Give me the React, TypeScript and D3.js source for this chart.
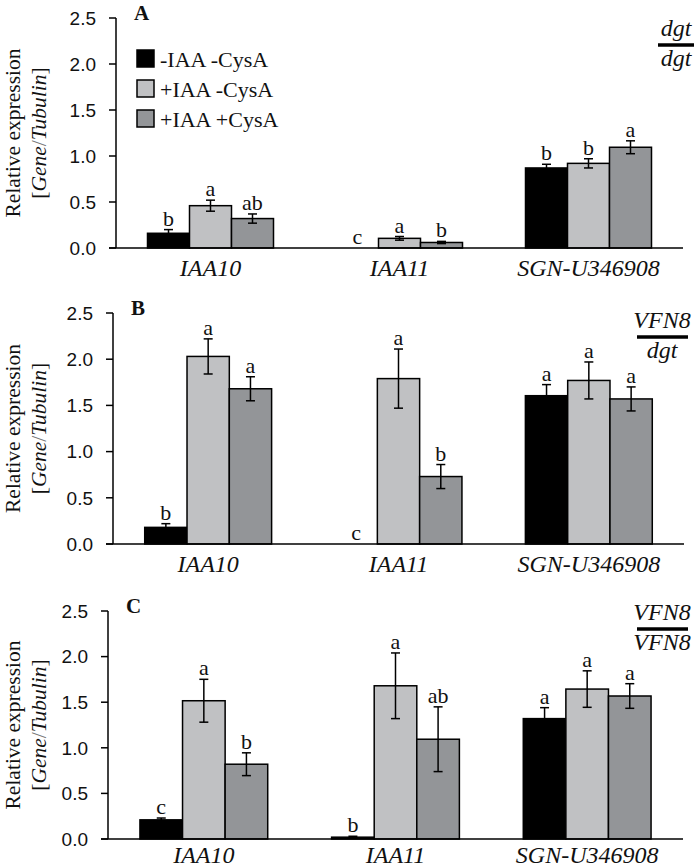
import React from "react";
import * as d3 from "d3";

const categories = ["IAA10", "IAA11", "SGN-U346908"];
const treatments = ["-IAA -CysA", "+IAA -CysA", "+IAA +CysA"];
const colors = ["#000000", "#c0c1c3", "#939598"];
const yTicks = [0, 0.5, 1.0, 1.5, 2.0, 2.5];

// Panel A (dgt/dgt)
const meansA = [[0.16, 0.46, 0.32], [0, 0.105, 0.06], [0.87, 0.92, 1.095]];
const errsA = [[0.04, 0.06, 0.05], [0, 0.02, 0.012], [0.04, 0.05, 0.07]];
const lettersA = [["b", "a", "ab"], ["c", "a", "b"], ["b", "b", "a"]];

// Panel B (VFN8/dgt)
const meansB = [[0.18, 2.03, 1.68], [0, 1.79, 0.73], [1.605, 1.77, 1.57]];
const errsB = [[0.04, 0.19, 0.13], [0, 0.32, 0.13], [0.12, 0.2, 0.13]];
const lettersB = [["b", "a", "a"], ["c", "a", "b"], ["a", "a", "a"]];

// Panel C (VFN8/VFN8)
const meansC = [[0.21, 1.516, 0.82], [0.02, 1.68, 1.094], [1.32, 1.644, 1.568]];
const errsC = [[0.02, 0.235, 0.125], [0.01, 0.36, 0.355], [0.12, 0.2, 0.135]];
const lettersC = [["c", "a", "b"], ["b", "a", "ab"], ["a", "a", "a"]];

const serif = "'Liberation Serif', 'Times New Roman', serif";
const sans = "'Liberation Sans', Arial, sans-serif";

type PanelProps = {
  label: string;
  yTop: number;
  y0: number;
  x0: number;
  x1: number;
  means: number[][];
  errs: number[][];
  letters: string[][];
  genoTop: string;
  genoBottom: string;
  genoCx: number;
  genoLineX: [number, number];
  genoLineY: number;
  catDy: number;
  legend?: boolean;
};

function Panel(p: PanelProps) {
  const y = d3.scaleLinear().domain([0, 2.5]).range([p.y0, p.yTop]);
  const xCat = d3
    .scaleBand<string>()
    .domain(categories)
    .range([p.x0, p.x1])
    .paddingInner(1 / 3)
    .paddingOuter(1 / 6);
  const xSub = d3
    .scaleBand<string>()
    .domain(treatments)
    .range([0, xCat.bandwidth()]);
  const fmt = d3.format(".1f");
  const midY = (p.y0 + p.yTop) / 2;
  const cap = 4.5;

  return (
    <g>
      {/* y axis */}
      <line x1={p.x0} x2={p.x0} y1={p.yTop} y2={p.y0} stroke="#000" strokeWidth={1.5} />
      {yTicks.map((t) => (
        <g key={t}>
          <line x1={p.x0 - 7} x2={p.x0} y1={y(t)} y2={y(t)} stroke="#000" strokeWidth={1.5} />
          <text
            x={p.x0 - 20}
            y={y(t)}
            dy="0.36em"
            textAnchor="end"
            fontFamily={sans}
            fontSize={19}
            fill="#111"
          >
            {fmt(t)}
          </text>
        </g>
      ))}
      {/* bars */}
      {categories.map((c, ci) => (
        <g key={c}>
          {treatments.map((t, ti) => {
            const v = p.means[ci][ti];
            const e = p.errs[ci][ti];
            const bx = (xCat(c) as number) + (xSub(t) as number);
            const bw = xSub.bandwidth();
            const cx = bx + bw / 2;
            const top = e > 0 ? y(v + e) : y(v);
            return (
              <g key={t}>
                {v > 0 && (
                  <rect
                    x={bx}
                    y={y(v)}
                    width={bw}
                    height={p.y0 - y(v)}
                    fill={colors[ti]}
                    stroke="#000"
                    strokeWidth={1.5}
                  />
                )}
                {e > 0 && (
                  <g stroke="#000" strokeWidth={1.5}>
                    <line x1={cx} x2={cx} y1={y(v + e)} y2={y(Math.max(0, v - e))} />
                    <line x1={cx - cap} x2={cx + cap} y1={y(v + e)} y2={y(v + e)} />
                    <line
                      x1={cx - cap}
                      x2={cx + cap}
                      y1={y(Math.max(0, v - e))}
                      y2={y(Math.max(0, v - e))}
                    />
                  </g>
                )}
                <text
                  x={cx}
                  y={top - 4}
                  textAnchor="middle"
                  fontFamily={serif}
                  fontSize={22}
                  fill="#111"
                >
                  {p.letters[ci][ti]}
                </text>
              </g>
            );
          })}
          <text
            x={(xCat(c) as number) + xCat.bandwidth() / 2}
            y={p.y0 + p.catDy}
            textAnchor="middle"
            fontFamily={serif}
            fontStyle="italic"
            fontSize={24}
            fill="#111"
          >
            {c}
          </text>
        </g>
      ))}
      {/* x axis */}
      <line x1={p.x0 - 7} x2={p.x1} y1={p.y0} y2={p.y0} stroke="#000" strokeWidth={1.5} />
      {/* panel letter */}
      <text
        x={p.x0 + 18}
        y={p.yTop + 2}
        fontFamily={serif}
        fontWeight="bold"
        fontSize={21}
        fill="#111"
      >
        {p.label}
      </text>
      {/* y label */}
      <g transform={`translate(20, ${midY}) rotate(-90)`}>
        <text textAnchor="middle" fontFamily={serif} fontSize={21.5} fill="#111">
          Relative expression
        </text>
      </g>
      <g transform={`translate(46, ${midY}) rotate(-90)`}>
        <text textAnchor="middle" fontFamily={serif} fontSize={21.5} fill="#111">
          [<tspan fontStyle="italic">Gene</tspan>
          <tspan fill="#777">/</tspan>
          <tspan fontStyle="italic">Tubulin</tspan>]
        </text>
      </g>
      {/* genotype */}
      <text
        x={p.genoCx}
        y={p.genoLineY - 9}
        textAnchor="middle"
        fontFamily={serif}
        fontStyle="italic"
        fontSize={24}
        fill="#111"
      >
        {p.genoTop}
      </text>
      <line
        x1={p.genoLineX[0]}
        x2={p.genoLineX[1]}
        y1={p.genoLineY}
        y2={p.genoLineY}
        stroke="#000"
        strokeWidth={3.5}
      />
      <text
        x={p.genoCx}
        y={p.genoLineY + 21}
        textAnchor="middle"
        fontFamily={serif}
        fontStyle="italic"
        fontSize={24}
        fill="#111"
      >
        {p.genoBottom}
      </text>
      {/* legend */}
      {p.legend &&
        treatments.map((t, i) => (
          <g key={t}>
            <rect
              x={137}
              y={50 + i * 30}
              width={17}
              height={17}
              fill={colors[i]}
              stroke="#000"
              strokeWidth={1.5}
            />
            <text x={160} y={50 + i * 30 + 17} fontFamily={serif} fontSize={22} fill="#111">
              {t}
            </text>
          </g>
        ))}
    </g>
  );
}

export default function App() {
  return (
    <svg
      width={700}
      height={867}
      style={{ position: "absolute", left: 0, top: 0, background: "#fff" }}
    >
      <rect width={700} height={867} fill="#fff" />
      <Panel
        label="A"
        yTop={18}
        y0={248}
        x0={116}
        x1={683}
        means={meansA}
        errs={errsA}
        letters={lettersA}
        genoTop="dgt"
        genoBottom="dgt"
        genoCx={676}
        genoLineX={[658, 694]}
        genoLineY={45}
        catDy={28}
        legend
      />
      <Panel
        label="B"
        yTop={313}
        y0={544}
        x0={113}
        x1={684}
        means={meansB}
        errs={errsB}
        letters={lettersB}
        genoTop="VFN8"
        genoBottom="dgt"
        genoCx={662}
        genoLineX={[637, 688]}
        genoLineY={337}
        catDy={28}
      />
      <Panel
        label="C"
        yTop={611}
        y0={839}
        x0={108}
        x1={683}
        means={meansC}
        errs={errsC}
        letters={lettersC}
        genoTop="VFN8"
        genoBottom="VFN8"
        genoCx={662}
        genoLineX={[637, 688]}
        genoLineY={629}
        catDy={24}
      />
    </svg>
  );
}
